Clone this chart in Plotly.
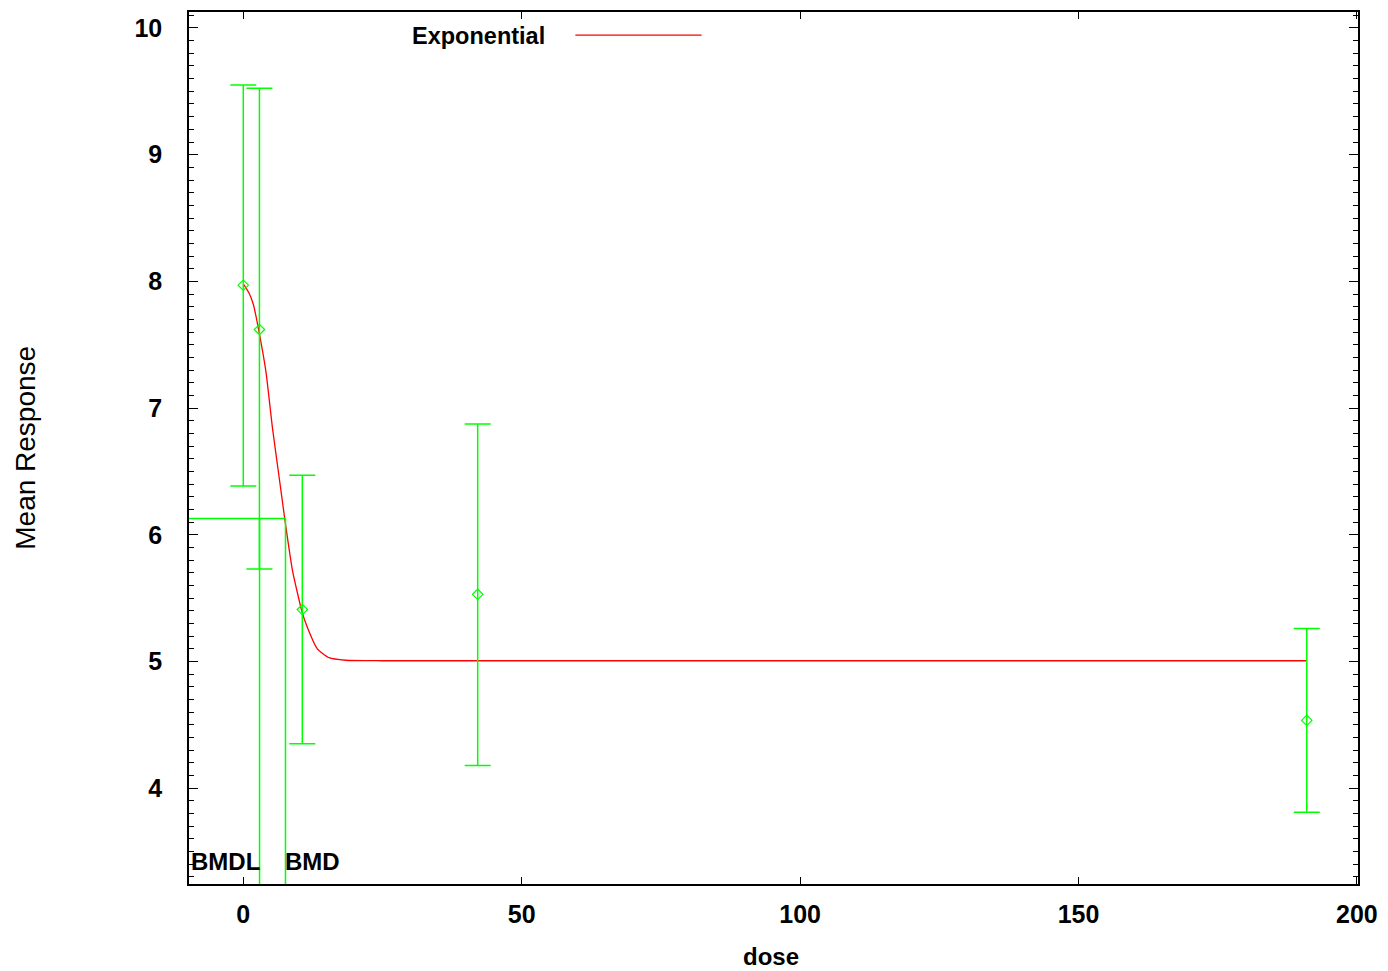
import plotly.graph_objects as go

# Observed group data
dose = [0.0, 2.9, 10.6, 42.1, 191.0]
mean_resp = [7.97, 7.62, 5.41, 5.53, 4.535]
upper = [9.55, 9.525, 6.47, 6.875, 5.26]
lower = [6.385, 5.73, 4.35, 4.18, 3.81]

# Fitted exponential curve
fit_dose = [0.0, 1.0, 1.8, 2.75, 4.06, 5.25, 6.45, 7.5, 8.83, 10.5, 11.5, 13.3, 15.4, 18.4, 25.0, 191.0]
fit_resp = [7.98, 7.91, 7.82, 7.62, 7.29, 6.84, 6.45, 6.11, 5.72, 5.40, 5.27, 5.10, 5.03, 5.01, 5.006, 5.006]

# Benchmark dose results
bmd = 7.58
bmdl = 2.92
bmr_resp = 6.128

x_range = [-9.75, 200.2]
y_range = [3.244, 10.126]

GREEN = "#00ff00"
RED = "#ff0000"
FONT = "Liberation Sans"

fig = go.Figure()

fig.add_trace(go.Scatter(
    x=fit_dose, y=fit_resp, mode="lines",
    line=dict(color=RED, width=1.3, shape="spline", smoothing=0.5),
    showlegend=False, hoverinfo="skip",
))

fig.add_trace(go.Scatter(
    x=dose, y=mean_resp, mode="markers",
    marker=dict(symbol="diamond-open", size=8, color=GREEN, line=dict(width=1.2, color=GREEN)),
    error_y=dict(
        type="data", symmetric=False,
        array=[u - m for u, m in zip(upper, mean_resp)],
        arrayminus=[m - l for m, l in zip(mean_resp, lower)],
        color=GREEN, thickness=1.5, width=13,
    ),
    showlegend=False,
))

# BMD / BMDL guide lines
fig.add_trace(go.Scatter(
    x=[x_range[0], bmd, bmd, None, bmdl, bmdl],
    y=[bmr_resp, bmr_resp, y_range[0], None, bmr_resp, y_range[0]],
    mode="lines", line=dict(color=GREEN, width=1.5),
    showlegend=False, hoverinfo="skip",
))

fig.add_annotation(x=bmdl, y=3.42, text="BMDL", showarrow=False,
                   xanchor="right", yanchor="middle", xshift=2,
                   font=dict(family=FONT, size=24, color="black", weight="bold"))
fig.add_annotation(x=bmd, y=3.42, text="BMD", showarrow=False,
                   xanchor="left", yanchor="middle", xshift=-2,
                   font=dict(family=FONT, size=24, color="black", weight="bold"))

# Key
fig.add_annotation(x=0.3027, y=0.9725, xref="paper", yref="paper", text="Exponential",
                   showarrow=False, xanchor="right", yanchor="middle", xshift=4,
                   font=dict(family=FONT, size=23.5, color="black", weight="bold"))
fig.add_shape(type="line", xref="paper", yref="paper", x0=0.3305, x1=0.4385,
              y0=0.9735, y1=0.9735, line=dict(color=RED, width=1.3))

# Axis titles
fig.add_annotation(x=0.4975, y=-0.0835, xref="paper", yref="paper", text="dose",
                   showarrow=False, xanchor="center", yanchor="middle",
                   font=dict(family=FONT, size=24, color="black", weight="bold"))
fig.add_annotation(x=-0.1405, y=0.5, xref="paper", yref="paper", text="Mean Response",
                   showarrow=False, textangle=-90, xanchor="center", yanchor="middle",
                   font=dict(family=FONT, size=28, color="black"))

fig.update_xaxes(
    range=x_range, tickvals=[0, 50, 100, 150, 200],
    showline=True, linecolor="black", linewidth=1.5, mirror="ticks",
    ticks="inside", ticklen=7, tickcolor="black", tickwidth=1.2,
    showgrid=False, zeroline=False, ticklabelstandoff=7,
    tickfont=dict(family=FONT, size=25, color="black", weight="bold"),
)
fig.update_yaxes(
    range=y_range, tickvals=[4, 5, 6, 7, 8, 9, 10],
    showline=True, linecolor="black", linewidth=1.5, mirror="ticks",
    ticks="inside", ticklen=9, tickcolor="black", tickwidth=1.2,
    minor=dict(dtick=0.1, ticks="inside", ticklen=5, tickcolor="black", tickwidth=1.2, showgrid=False),
    showgrid=False, zeroline=False, ticklabelstandoff=20,
    tickfont=dict(family=FONT, size=25, color="black", weight="bold"),
)

fig.update_layout(
    width=1388, height=971,
    margin=dict(l=189, r=23, t=10, b=87),
    plot_bgcolor="white", paper_bgcolor="white",
    showlegend=False,
)

fig.write_html("out.html")
